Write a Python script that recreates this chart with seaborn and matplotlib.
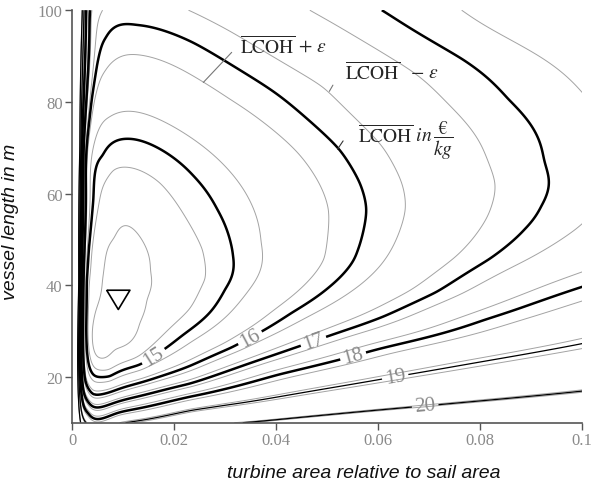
import numpy as np
import matplotlib
matplotlib.use("Agg")
import matplotlib.pyplot as plt
import seaborn as sns

# ---------------- data ----------------
thick_levels = [15, 16, 17, 18]
thin_levels = [19, 20]
level_eps = {15: 0.25, 16: 0.25, 17: 0.25, 18: 0.25, 19: 0.10, 20: 0.03}
inner_level = 14.5

# traced level-set points: turbine area ratio (x) and vessel length (L)
x15 = [0.0107, 0.0061, 0.0042, 0.0032, 0.0028, 0.0027, 0.0032, 0.0041, 0.0074, 0.0133,
       0.0159, 0.0231, 0.0270, 0.0296, 0.0313, 0.0309, 0.0283, 0.0237]
L15 = [71.9, 67.5, 58.7, 47.8, 41.3, 30.3, 23.1, 20.5, 19.8, 22.3,
       24.5, 30.3, 34.0, 39.1, 46.4, 50.0, 56.6, 63.8]
x16 = [0.0126, 0.0237, 0.0368, 0.0414, 0.0525, 0.0564, 0.0577, 0.0558, 0.0505, 0.0427, 0.0375,
       0.0348, 0.0316, 0.0231, 0.0041, 0.0025, 0.0022, 0.0026, 0.0038, 0.0048, 0.0067]
L16 = [96.6, 93.0, 84.2, 80.6, 69.6, 62.4, 56.6, 47.5, 39.8, 34.0, 30.0,
       28.6, 26.3, 22.3, 16.1, 19.3, 40.0, 65.0, 80.6, 87.9, 93.7]
x17 = [0.0613, 0.0767, 0.0852, 0.0911, 0.0930, 0.0917, 0.0884, 0.0820, 0.0721, 0.0613,
       0.0473, 0.0427, 0.0231, 0.0035, 0.0021, 0.0018, 0.0022, 0.0034]
L17 = [99.8, 89.3, 80.6, 72.6, 65.3, 57.3, 52.2, 45.6, 38.4, 33.0,
       27.7, 26.0, 18.3, 13.9, 17.0, 40.0, 70.0, 100.0]
x18 = [0.0032, 0.0231, 0.0400, 0.0551, 0.0603, 0.0800, 0.0900, 0.0999, 0.0019, 0.0016, 0.0019, 0.0027]
L18 = [12.1, 15.8, 20.6, 24.4, 26.3, 32.5, 36.0, 39.8, 16.0, 40.0, 70.0, 100.0]
x19 = [0.0094, 0.0231, 0.0300, 0.0427, 0.0633, 0.0800, 0.0999, 0.0028, 0.0017, 0.0014, 0.0017, 0.0023]
L19 = [10.0, 12.8, 13.9, 16.1, 20.1, 23.3, 27.1, 10.0, 13.0, 40.0, 70.0, 100.0]
x20 = [0.0350, 0.0500, 0.0692, 0.0850, 0.0999, 0.0014, 0.0013, 0.0015, 0.0020]
L20 = [10.0, 11.7, 13.6, 15.2, 16.7, 12.0, 40.0, 70.0, 100.0]
# uncertainty-band (gray) lines and a few estimated values
xg = [0.0087, 0.0133, 0.0136, 0.0126, 0.0080, 0.0048, 0.0054,
      0.0048, 0.0080, 0.0107, 0.0172, 0.0257, 0.0264, 0.0231,
      0.0074, 0.0107, 0.0362, 0.0231,
      0.0067, 0.0107, 0.0257, 0.0303, 0.0348, 0.0505, 0.0505,
      0.0060, 0.0230, 0.0310, 0.0506, 0.0610, 0.0656, 0.0610,
      0.0460, 0.0623, 0.0701, 0.0727, 0.0833, 0.0800, 0.0754, 0.0603,
      0.0773, 0.0995, 0.0603,
      0.0999, 0.0603, 0.0999, 0.0603,
      0.0999, 0.0999,
      0.0091, 0.1000, 0.1000, 0.1000]
Lg = [48.9, 42.7, 36.9, 31.8, 27.4, 31.0, 41.3,
      41.3, 65.3, 65.7, 62.4, 47.8, 41.3, 34.7,
      76.2, 78.0, 49.3, 28.2,
      85.7, 90.4, 84.2, 80.6, 77.7, 56.6, 45.6,
      99.5, 99.9, 95.5, 83.5, 70.4, 56.6, 45.6,
      99.9, 89.3, 83.2, 80.6, 62.3, 52.2, 46.3, 35.2,
      99.9, 52.2, 30.3,
      43.4, 27.8, 37.3, 25.2,
      28.3, 26.3,
      36.8, 100.0, 10.0, 67.0]
vg = [14.5, 14.5, 14.5, 14.5, 14.5, 14.5, 14.5,
      14.75, 14.75, 14.75, 14.75, 14.75, 14.75, 14.75,
      15.25, 15.25, 15.25, 15.25,
      15.75, 15.75, 15.75, 15.75, 15.75, 15.75, 15.75,
      16.25, 16.25, 16.25, 16.25, 16.25, 16.25, 16.25,
      16.75, 16.75, 16.75, 16.75, 16.75, 16.75, 16.75, 16.75,
      17.25, 17.25, 17.25,
      17.75, 17.75, 18.25, 18.25,
      18.9, 19.1,
      14.35, 17.6, 21.0, 17.18]

label_x = [0.0159, 0.0348, 0.0473, 0.0551, 0.0633, 0.0692]
label_L = [24.5, 28.6, 27.7, 24.4, 20.1, 13.6]

optimum_x, optimum_L = [0.00902], [36.8]

xticks = [0, 0.02, 0.04, 0.06, 0.08, 0.1]
xtick_labels = ["0", "0.02", "0.04", "0.06", "0.08", "0.1"]
yticks = [20, 40, 60, 80, 100]


# ---------------- smooth LCOH surface through the traced points (thin-plate spline) ----------------
def to_unit(x, L):
    a = (np.log10(np.asarray(x, float)) + 3.5) / 2.5
    l = (np.asarray(L, float) - 10.0) / 90.0
    return a, l


def tps_kernel(r):
    with np.errstate(divide="ignore", invalid="ignore"):
        k = r**2 * np.log(r)
    return np.where(r > 0, k, 0.0)


main_x = np.concatenate([x15, x16, x17, x18, x19, x20])
main_L = np.concatenate([L15, L16, L17, L18, L19, L20])
main_v = np.concatenate([np.full(len(x15), 15.0), np.full(len(x16), 16.0), np.full(len(x17), 17.0),
                         np.full(len(x18), 18.0), np.full(len(x19), 19.0), np.full(len(x20), 20.0)])
px = np.concatenate([main_x, xg])
pL = np.concatenate([main_L, Lg])
pv = np.concatenate([main_v, np.asarray(vg, float)])
lam = np.concatenate([np.full(len(main_x), 2e-3), np.full(len(xg), 6e-3)])
lam[len(main_x):len(main_x) + 14] = 1.5e-3

pa, pl = to_unit(px, pL)
n = len(pv)
R = np.hypot(pa[:, None] - pa[None, :], pl[:, None] - pl[None, :])
P = np.column_stack([np.ones(n), pa, pl])
M = np.zeros((n + 3, n + 3))
M[:n, :n] = tps_kernel(R) + np.diag(lam)
M[:n, n:] = P
M[n:, :n] = P.T
sol = np.linalg.solve(M, np.concatenate([pv, np.zeros(3)]))
w, c = sol[:n], sol[n:]

gx = np.linspace(0.0003, 0.1, 700)
gL = np.linspace(10, 100, 600)
GX, GL = np.meshgrid(gx, gL)
GA, GLu = to_unit(GX, GL)
Z = c[0] + c[1] * GA + c[2] * GLu
for i in range(n):
    Z += w[i] * tps_kernel(np.hypot(GA - pa[i], GLu - pl[i]))

# ---------------- figure ----------------
sns.set_style("ticks")
plt.rcParams["font.family"] = ["Liberation Serif", "DejaVu Serif"]
plt.rcParams["mathtext.fontset"] = "stix"

fig = plt.figure(figsize=(5.93, 4.89), dpi=100)
ax = fig.add_axes([72.3 / 593, 1 - 423.7 / 489, 510 / 593, 412.5 / 489])

gray_levels = sorted([inner_level] + [lv - e for lv, e in level_eps.items()] +
                     [lv + e for lv, e in level_eps.items()])
ax.contour(GX, GL, Z, levels=gray_levels, colors="#a3a3a3", linewidths=0.7)
cs_thick = ax.contour(GX, GL, Z, levels=thick_levels, colors="black", linewidths=1.8)
cs_thin = ax.contour(GX, GL, Z, levels=thin_levels, colors="black", linewidths=0.9)

ax.clabel(cs_thick, fmt="%d", inline=True, fontsize=15, colors="#8a8a8a",
          manual=list(zip(label_x[:4], label_L[:4])), inline_spacing=3)
ax.clabel(cs_thin, fmt="%d", inline=True, fontsize=15, colors="#8a8a8a",
          manual=list(zip(label_x[4:], label_L[4:])), inline_spacing=3)

sns.scatterplot(x=optimum_x, y=optimum_L, ax=ax, marker=[(-1, 0.83), (1, 0.83), (0, -0.83), (-1, 0.83)],
                s=280, color="none", edgecolor="black", linewidth=1.2, zorder=5)

ax.set_xlim(0, 0.1)
ax.set_ylim(10, 100)
ax.set_xticks(xticks)
ax.set_xticklabels(xtick_labels)
ax.set_yticks(yticks)
ax.tick_params(direction="out", length=5, width=1, color="#555555", labelcolor="#8a8a8a",
               labelsize=12, pad=2)
for side in ["top", "right"]:
    ax.spines[side].set_visible(False)
for side in ["left", "bottom"]:
    ax.spines[side].set_color("#555555")
    ax.spines[side].set_linewidth(1.2)

ax.set_xlabel("turbine area relative to sail area", family=["Liberation Sans"], style="italic",
              fontsize=14, color="#111111")
ax.set_ylabel("vessel length in m", family=["Liberation Sans"], style="italic",
              fontsize=14, color="#111111")
ax.xaxis.set_label_coords(0.572, -0.1)
ax.yaxis.set_label_coords(-0.1045, 0.489)

ax.text(0.0329, 90.87, r"$\overline{\mathrm{LCOH}}\,+\,\varepsilon$", fontsize=14, va="baseline", ha="left")
ax.text(0.0535, 84.97, r"$\overline{\mathrm{LCOH}}\ \ -\,\varepsilon$", fontsize=14, va="baseline", ha="left")
ax.text(0.0560, 71.2, r"$\overline{\mathrm{LCOH}}\ in\,\dfrac{\mathrm{€}}{kg}$", fontsize=14,
        va="baseline", ha="left")
ax.plot([0.03125, 0.02569], [90.8, 84.24], color="#777777", lw=0.8)
ax.plot([0.0511, 0.0504], [83.65, 82.3], color="#777777", lw=0.8)
ax.plot([0.0531, 0.0520], [71.48, 69.67], color="#333333", lw=0.8)

fig.savefig("out.png", dpi=100)
